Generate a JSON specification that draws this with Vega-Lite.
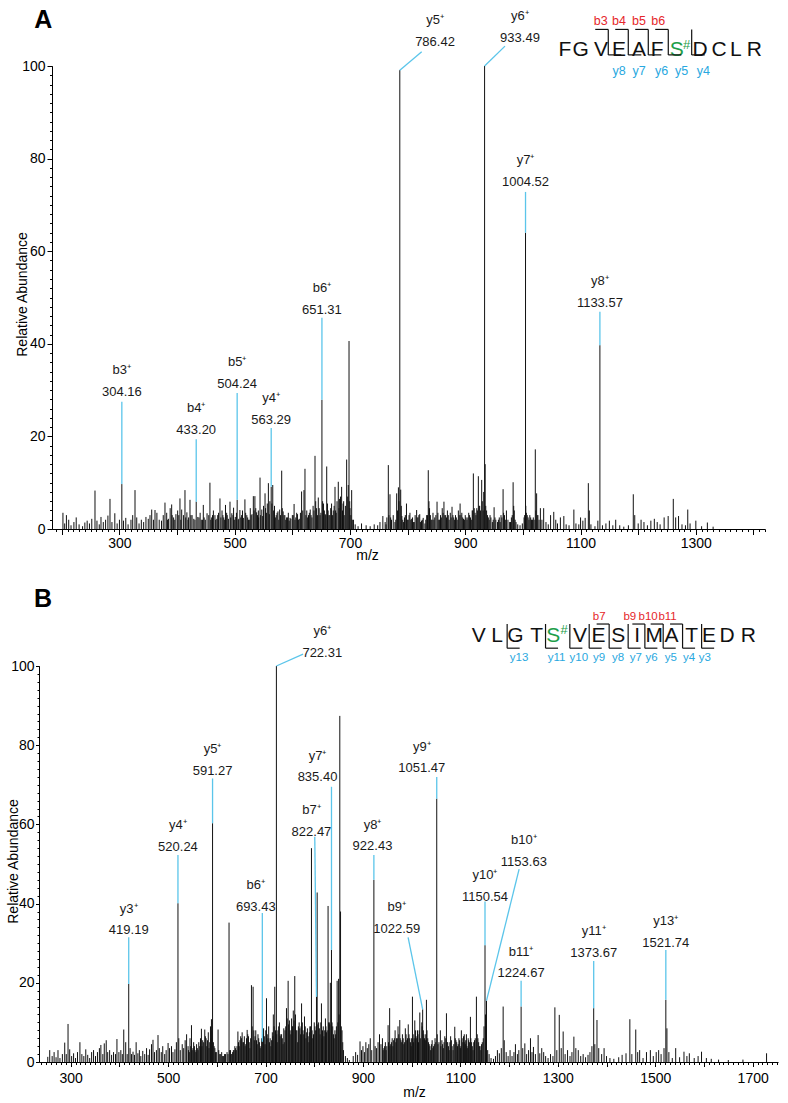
{
"$schema":"https://vega.github.io/schema/vega-lite/v6.json",
"background":"white",
"padding":{"left":6,"top":7,"right":4,"bottom":2},
"autosize":{"type":"pad"},
"bounds":"flush",
"center":true,
"spacing":137,
"config":{"view":{"stroke":null},"axis":{"grid":false,"labelFont":"Liberation Sans","titleFont":"Liberation Sans","labelFontSize":14,"titleFontSize":14,"titleFontWeight":"normal","labelColor":"#000","titleColor":"#000","domainColor":"#000","tickColor":"#000","domainWidth":1,"tickWidth":1,"labelFlush":false,"labelOverlap":false,"labelBound":false}},
"datasets":{
"one":[{"k":1}],
"specA":[{"mz":202,"i":3.5},{"mz":205,"i":1.2},{"mz":208,"i":3.0},{"mz":212,"i":2.0},{"mz":216,"i":0.8},{"mz":221,"i":1.5},{"mz":225,"i":2.5},{"mz":230,"i":1.0},{"mz":236,"i":0.6},{"mz":240,"i":1.4},{"mz":244,"i":1.8},{"mz":248,"i":1.2},{"mz":252,"i":2.2},{"mz":257.6,"i":8.3},{"mz":261,"i":1.8},{"mz":265,"i":1.0},{"mz":268,"i":2.6},{"mz":272,"i":1.5},{"mz":276,"i":2.0},{"mz":280,"i":2.9},{"mz":283.6,"i":6.5},{"mz":287,"i":1.5},{"mz":292,"i":3.4},{"mz":296,"i":1.2},{"mz":300,"i":2.0},{"mz":304.16,"i":9.7},{"mz":307,"i":1.8},{"mz":311,"i":2.4},{"mz":315,"i":1.0},{"mz":320,"i":2.0},{"mz":323,"i":3.0},{"mz":327,"i":8.4},{"mz":330,"i":2.5},{"mz":334,"i":1.2},{"mz":338,"i":2.0},{"mz":342,"i":1.5},{"mz":346,"i":2.6},{"mz":350,"i":2.2},{"mz":353,"i":3.0},{"mz":356,"i":4.2},{"mz":359,"i":2.0},{"mz":361.7,"i":4.1},{"mz":365,"i":3.5},{"mz":369,"i":2.0},{"mz":373,"i":1.8},{"mz":376,"i":3.0},{"mz":379,"i":5.7},{"mz":382,"i":3.5},{"mz":383.5,"i":2.0},{"mz":385,"i":2.2},{"mz":388,"i":4.5},{"mz":390.6,"i":5.3},{"mz":391.5,"i":3.0},{"mz":394,"i":2.5},{"mz":396,"i":2.0},{"mz":398,"i":3.2},{"mz":401,"i":4.0},{"mz":403,"i":3.0},{"mz":405,"i":6.6},{"mz":406.5,"i":2.0},{"mz":408,"i":4.2},{"mz":411,"i":3.0},{"mz":413.7,"i":8.4},{"mz":415,"i":2.5},{"mz":417,"i":3.6},{"mz":419,"i":2.0},{"mz":420,"i":2.5},{"mz":422.4,"i":6.3},{"mz":424,"i":3.0},{"mz":426,"i":3.0},{"mz":429,"i":2.2},{"mz":431,"i":2.0},{"mz":433.2,"i":5.9},{"mz":436,"i":2.6},{"mz":438,"i":2.5},{"mz":440,"i":3.5},{"mz":442,"i":2.0},{"mz":444,"i":2.0},{"mz":445.5,"i":5.2},{"mz":447,"i":2.5},{"mz":449,"i":2.0},{"mz":452,"i":3.4},{"mz":455,"i":3.0},{"mz":457,"i":10.0},{"mz":458.5,"i":2.0},{"mz":460,"i":2.5},{"mz":461.5,"i":3.0},{"mz":463,"i":4.0},{"mz":465.7,"i":3.0},{"mz":467,"i":2.0},{"mz":469,"i":2.2},{"mz":470.5,"i":3.0},{"mz":472,"i":3.5},{"mz":474.4,"i":6.6},{"mz":476,"i":2.5},{"mz":478,"i":4.0},{"mz":479.5,"i":3.0},{"mz":481,"i":2.5},{"mz":482.5,"i":2.0},{"mz":484,"i":5.2},{"mz":486,"i":3.5},{"mz":487,"i":3.0},{"mz":489,"i":2.2},{"mz":491.8,"i":5.9},{"mz":493,"i":2.5},{"mz":495,"i":3.4},{"mz":497,"i":3.0},{"mz":498,"i":4.6},{"mz":500,"i":2.0},{"mz":501,"i":2.6},{"mz":503,"i":3.5},{"mz":504.24,"i":6.3},{"mz":506,"i":2.0},{"mz":507,"i":2.2},{"mz":509,"i":4.1},{"mz":510.5,"i":2.5},{"mz":512,"i":3.0},{"mz":513.5,"i":4.0},{"mz":515,"i":2.4},{"mz":517.7,"i":6.4},{"mz":519,"i":3.5},{"mz":521,"i":3.0},{"mz":522.5,"i":2.5},{"mz":524,"i":2.0},{"mz":526,"i":2.0},{"mz":527,"i":4.5},{"mz":528.5,"i":3.0},{"mz":530,"i":3.2},{"mz":532.3,"i":7.1},{"mz":533.5,"i":4.0},{"mz":535,"i":7.1},{"mz":536.5,"i":4.5},{"mz":538,"i":3.6},{"mz":539.5,"i":3.0},{"mz":541,"i":4.0},{"mz":541.5,"i":2.5},{"mz":543.9,"i":11.1},{"mz":545,"i":3.0},{"mz":547,"i":4.2},{"mz":548.5,"i":2.8},{"mz":550,"i":5.0},{"mz":552.6,"i":7.7},{"mz":553.5,"i":4.5},{"mz":555,"i":3.5},{"mz":556.5,"i":5.5},{"mz":558.4,"i":9.9},{"mz":560,"i":3.2},{"mz":561,"i":6.0},{"mz":563.29,"i":9.1},{"mz":564.5,"i":5.5},{"mz":566,"i":9.5},{"mz":567.5,"i":4.0},{"mz":569,"i":5.0},{"mz":570.5,"i":2.5},{"mz":572,"i":3.0},{"mz":573.5,"i":3.5},{"mz":575,"i":3.8},{"mz":576.5,"i":2.0},{"mz":578,"i":4.2},{"mz":579.5,"i":3.0},{"mz":581.5,"i":12.6},{"mz":582.5,"i":4.5},{"mz":584,"i":3.8},{"mz":585.5,"i":3.0},{"mz":587,"i":3.0},{"mz":588.5,"i":2.0},{"mz":590,"i":2.5},{"mz":591.5,"i":2.5},{"mz":593,"i":3.5},{"mz":594.5,"i":1.8},{"mz":596,"i":2.4},{"mz":597.5,"i":2.2},{"mz":600,"i":3.0},{"mz":601.5,"i":3.0},{"mz":603,"i":5.4},{"mz":604.5,"i":2.0},{"mz":606,"i":2.5},{"mz":607.5,"i":3.5},{"mz":609,"i":3.2},{"mz":610.5,"i":2.0},{"mz":612,"i":2.2},{"mz":614,"i":3.5},{"mz":616,"i":8.1},{"mz":618,"i":4.0},{"mz":620.2,"i":8.4},{"mz":621.9,"i":13.0},{"mz":623.5,"i":3.0},{"mz":625,"i":4.0},{"mz":626.5,"i":2.5},{"mz":628,"i":3.0},{"mz":629.5,"i":3.5},{"mz":631,"i":4.2},{"mz":632.5,"i":3.0},{"mz":634,"i":2.5},{"mz":636,"i":5.0},{"mz":637.5,"i":4.0},{"mz":639.3,"i":15.8},{"mz":640.5,"i":6.0},{"mz":642,"i":4.5},{"mz":643.5,"i":3.0},{"mz":645,"i":6.8},{"mz":646.5,"i":4.5},{"mz":648,"i":3.0},{"mz":649.5,"i":3.5},{"mz":651.31,"i":27.9},{"mz":652.5,"i":6.0},{"mz":654,"i":5.5},{"mz":655.5,"i":4.0},{"mz":657,"i":3.2},{"mz":658,"i":3.0},{"mz":659.6,"i":13.5},{"mz":661,"i":5.5},{"mz":662,"i":4.0},{"mz":663.5,"i":3.0},{"mz":665,"i":3.0},{"mz":666.5,"i":4.5},{"mz":668,"i":5.5},{"mz":669.5,"i":3.0},{"mz":671,"i":4.0},{"mz":672.5,"i":5.0},{"mz":674,"i":9.1},{"mz":675,"i":4.0},{"mz":676,"i":3.5},{"mz":677.5,"i":6.0},{"mz":679.7,"i":10.2},{"mz":681,"i":4.5},{"mz":682,"i":6.5},{"mz":683.5,"i":7.0},{"mz":685.5,"i":9.1},{"mz":687,"i":4.0},{"mz":688,"i":5.5},{"mz":689,"i":6.0},{"mz":690,"i":3.0},{"mz":692,"i":5.0},{"mz":694.2,"i":15.0},{"mz":696,"i":7.0},{"mz":697,"i":9.5},{"mz":698.3,"i":40.6},{"mz":699.5,"i":6.0},{"mz":700,"i":4.5},{"mz":701.5,"i":3.0},{"mz":702.9,"i":8.4},{"mz":704,"i":2.0},{"mz":706,"i":2.0},{"mz":709,"i":1.0},{"mz":714,"i":0.6},{"mz":720,"i":1.2},{"mz":728,"i":0.8},{"mz":735,"i":0.6},{"mz":742,"i":1.0},{"mz":748,"i":0.8},{"mz":752,"i":1.5},{"mz":757,"i":2.8},{"mz":761,"i":1.5},{"mz":762.5,"i":1.0},{"mz":764,"i":2.5},{"mz":766.5,"i":13.8},{"mz":767.5,"i":3.0},{"mz":769.4,"i":7.5},{"mz":770.5,"i":2.5},{"mz":772,"i":2.0},{"mz":775,"i":3.0},{"mz":778,"i":1.5},{"mz":779.5,"i":2.0},{"mz":781,"i":7.7},{"mz":782.5,"i":4.0},{"mz":784,"i":9.0},{"mz":785,"i":6.0},{"mz":786.42,"i":99.1},{"mz":788,"i":8.5},{"mz":789,"i":5.0},{"mz":790,"i":2.8},{"mz":791.5,"i":2.0},{"mz":793,"i":1.5},{"mz":794.5,"i":2.5},{"mz":796,"i":3.0},{"mz":798,"i":5.5},{"mz":799.5,"i":2.0},{"mz":801,"i":2.0},{"mz":802.5,"i":3.0},{"mz":804,"i":3.5},{"mz":805.5,"i":2.0},{"mz":807,"i":2.2},{"mz":808.5,"i":2.5},{"mz":810,"i":1.5},{"mz":811.5,"i":1.5},{"mz":813,"i":3.0},{"mz":815.6,"i":4.1},{"mz":816.5,"i":2.5},{"mz":818,"i":2.5},{"mz":819.5,"i":3.0},{"mz":821,"i":3.2},{"mz":822.5,"i":1.5},{"mz":824,"i":1.8},{"mz":825.5,"i":2.0},{"mz":827,"i":2.4},{"mz":830,"i":1.2},{"mz":831.5,"i":2.0},{"mz":833,"i":3.0},{"mz":834.5,"i":3.0},{"mz":835.8,"i":12.7},{"mz":837,"i":6.0},{"mz":838,"i":4.5},{"mz":839.5,"i":3.0},{"mz":841,"i":2.0},{"mz":842.5,"i":2.0},{"mz":844,"i":3.5},{"mz":845.5,"i":2.0},{"mz":847,"i":2.5},{"mz":849,"i":3.0},{"mz":851,"i":5.9},{"mz":852.5,"i":3.5},{"mz":854,"i":2.0},{"mz":855.5,"i":2.0},{"mz":857,"i":3.0},{"mz":858.5,"i":2.5},{"mz":860,"i":4.5},{"mz":861.5,"i":3.5},{"mz":863,"i":5.9},{"mz":864.5,"i":3.0},{"mz":866,"i":3.0},{"mz":867.5,"i":2.5},{"mz":869,"i":4.0},{"mz":870.5,"i":3.0},{"mz":872,"i":2.0},{"mz":874,"i":3.5},{"mz":875.5,"i":2.5},{"mz":877,"i":4.8},{"mz":878.5,"i":3.0},{"mz":880,"i":2.5},{"mz":881.5,"i":2.0},{"mz":883,"i":3.0},{"mz":884.5,"i":2.5},{"mz":886,"i":2.0},{"mz":888,"i":4.0},{"mz":889.5,"i":3.0},{"mz":891,"i":5.5},{"mz":892.5,"i":3.0},{"mz":894,"i":3.5},{"mz":895.5,"i":2.5},{"mz":897,"i":2.2},{"mz":898.5,"i":2.0},{"mz":900,"i":3.0},{"mz":901.5,"i":2.5},{"mz":903,"i":2.0},{"mz":904.5,"i":2.5},{"mz":906,"i":3.5},{"mz":907.5,"i":3.0},{"mz":909,"i":2.5},{"mz":910.5,"i":2.0},{"mz":912,"i":4.0},{"mz":913,"i":4.0},{"mz":914,"i":12.0},{"mz":915.5,"i":4.5},{"mz":917,"i":3.5},{"mz":918.5,"i":3.0},{"mz":920,"i":4.5},{"mz":921,"i":4.0},{"mz":922.7,"i":11.4},{"mz":924,"i":5.0},{"mz":925,"i":5.0},{"mz":926.5,"i":4.0},{"mz":928.5,"i":10.6},{"mz":929.5,"i":6.0},{"mz":931,"i":4.0},{"mz":932,"i":8.0},{"mz":933.49,"i":100},{"mz":934.5,"i":14.0},{"mz":935.5,"i":5.0},{"mz":937,"i":4.0},{"mz":938.5,"i":3.0},{"mz":940,"i":2.5},{"mz":941.5,"i":2.0},{"mz":943,"i":3.0},{"mz":944.5,"i":2.5},{"mz":947,"i":1.5},{"mz":948.5,"i":2.0},{"mz":950,"i":4.7},{"mz":951.5,"i":2.5},{"mz":953,"i":2.0},{"mz":956,"i":1.5},{"mz":957.5,"i":2.0},{"mz":959,"i":2.5},{"mz":960.5,"i":1.5},{"mz":962,"i":3.0},{"mz":963.5,"i":2.5},{"mz":965.6,"i":8.6},{"mz":966.5,"i":3.5},{"mz":968,"i":3.0},{"mz":969.5,"i":2.0},{"mz":971.4,"i":4.0},{"mz":974,"i":2.0},{"mz":977,"i":1.5},{"mz":978.5,"i":1.5},{"mz":980,"i":2.5},{"mz":981.5,"i":3.0},{"mz":983,"i":10.1},{"mz":984,"i":5.0},{"mz":985,"i":4.0},{"mz":986.5,"i":2.0},{"mz":988,"i":1.5},{"mz":991,"i":1.0},{"mz":995,"i":0.8},{"mz":999,"i":1.2},{"mz":1002,"i":2.5},{"mz":1003,"i":3.0},{"mz":1004.52,"i":64},{"mz":1005,"i":5.0},{"mz":1006,"i":3.5},{"mz":1007.5,"i":3.0},{"mz":1009,"i":2.5},{"mz":1010.5,"i":2.0},{"mz":1012,"i":3.0},{"mz":1013.5,"i":2.5},{"mz":1015,"i":2.0},{"mz":1016.5,"i":2.0},{"mz":1018,"i":2.5},{"mz":1019.5,"i":2.0},{"mz":1021.5,"i":17.2},{"mz":1022.5,"i":4.0},{"mz":1023.8,"i":7.7},{"mz":1024.8,"i":3.0},{"mz":1026,"i":3.0},{"mz":1028,"i":2.0},{"mz":1030.3,"i":4.5},{"mz":1033,"i":2.0},{"mz":1036,"i":4.5},{"mz":1040,"i":1.5},{"mz":1044,"i":1.0},{"mz":1048,"i":3.0},{"mz":1053.5,"i":3.7},{"mz":1057,"i":2.0},{"mz":1060,"i":1.2},{"mz":1065,"i":2.5},{"mz":1071,"i":2.8},{"mz":1075,"i":1.0},{"mz":1080,"i":0.8},{"mz":1088.4,"i":4.2},{"mz":1092,"i":1.2},{"mz":1097,"i":1.0},{"mz":1100,"i":2.5},{"mz":1104,"i":1.8},{"mz":1108,"i":2.4},{"mz":1113.5,"i":9.9},{"mz":1115.2,"i":4.0},{"mz":1118,"i":1.0},{"mz":1125,"i":0.6},{"mz":1130,"i":1.8},{"mz":1133.57,"i":39.7},{"mz":1138,"i":0.8},{"mz":1144,"i":1.2},{"mz":1150,"i":1.8},{"mz":1156,"i":0.8},{"mz":1161,"i":2.0},{"mz":1168,"i":0.8},{"mz":1175,"i":0.5},{"mz":1183,"i":0.8},{"mz":1191.5,"i":7.5},{"mz":1194,"i":3.0},{"mz":1200,"i":1.2},{"mz":1205,"i":2.0},{"mz":1210,"i":1.5},{"mz":1216,"i":0.8},{"mz":1222,"i":1.8},{"mz":1228,"i":2.2},{"mz":1233,"i":1.5},{"mz":1238,"i":1.0},{"mz":1245,"i":2.5},{"mz":1252,"i":2.8},{"mz":1260.9,"i":6.5},{"mz":1265,"i":2.5},{"mz":1270,"i":2.8},{"mz":1276,"i":1.0},{"mz":1282,"i":0.8},{"mz":1286,"i":4.2},{"mz":1290,"i":1.2},{"mz":1300,"i":1.8},{"mz":1310,"i":0.6},{"mz":1320,"i":1.4},{"mz":1330,"i":0.5}],
"annA":[{"ion":"b3⁺","lab":"304.16","mz":304.16,"i":9.7,"lx":304.16,"ly":27.5,"tx":304.16,"ty":29.5},{"ion":"b4⁺","lab":"433.20","mz":433.2,"i":5.9,"lx":433.2,"ly":19.4,"tx":433.2,"ty":21.4},{"ion":"b5⁺","lab":"504.24","mz":504.24,"i":6.3,"lx":504.24,"ly":29.4,"tx":504.24,"ty":31.3},{"ion":"y4⁺","lab":"563.29","mz":563.29,"i":9.1,"lx":563.29,"ly":21.8,"tx":563.29,"ty":23.5},{"ion":"b6⁺","lab":"651.31","mz":651.31,"i":27.9,"lx":651.31,"ly":45.6,"tx":651.31,"ty":47.3},{"ion":"y5⁺","lab":"786.42","mz":786.42,"i":99.1,"lx":824.4,"ly":103.1,"tx":847.5,"ty":105.2},{"ion":"y6⁺","lab":"933.49","mz":933.49,"i":100,"lx":968.9,"ly":104.3,"tx":994.9,"ty":106.0},{"ion":"y7⁺","lab":"1004.52","mz":1004.52,"i":64,"lx":1004.52,"ly":72.8,"tx":1004.52,"ty":74.9},{"ion":"y8⁺","lab":"1133.57","mz":1133.57,"i":39.7,"lx":1133.57,"ly":46.9,"tx":1133.57,"ty":48.8}],
"seqA":[{"aa":"F","x":1073.0,"c":"n"},{"aa":"G","x":1100.3,"c":"n"},{"aa":"V","x":1135.5,"c":"n"},{"aa":"E","x":1166.7,"c":"n"},{"aa":"A","x":1201.4,"c":"n"},{"aa":"F","x":1233.1,"c":"n"},{"aa":"S","x":1266.8,"c":"p"},{"aa":"D","x":1307.2,"c":"n"},{"aa":"C","x":1340.2,"c":"n"},{"aa":"L","x":1369.2,"c":"n"},{"aa":"R","x":1401.4,"c":"n"}],
"sepA":[{"s":1148.1,"bx":1125.5,"yx":1170.7},{"s":1182.8,"bx":1160.2,"yx":1205.4},{"s":1217.5,"bx":1194.9,"yx":1240.1},{"s":1252.2,"bx":1229.6,"yx":1274.8},{"s":1292.8,"yx":1315.4}],
"bA":[{"t":"b3","x":1134.9},{"t":"b4","x":1166.7},{"t":"b5","x":1201.4},{"t":"b6","x":1234.9}],
"yA":[{"t":"y8","x":1166.7},{"t":"y7","x":1201.4},{"t":"y6","x":1240.8},{"t":"y5","x":1275.5},{"t":"y4","x":1312.9}],
"specB":[{"mz":253,"i":1.3},{"mz":257,"i":3.0},{"mz":262,"i":1.5},{"mz":266,"i":2.5},{"mz":270,"i":1.2},{"mz":274,"i":3.0},{"mz":278,"i":1.0},{"mz":283,"i":2.0},{"mz":287.8,"i":4.9},{"mz":291,"i":2.0},{"mz":294.6,"i":9.6},{"mz":298,"i":3.2},{"mz":302,"i":1.5},{"mz":306,"i":2.2},{"mz":310,"i":1.0},{"mz":314,"i":2.5},{"mz":319,"i":5.0},{"mz":323,"i":2.0},{"mz":327,"i":1.5},{"mz":331,"i":3.2},{"mz":335,"i":1.8},{"mz":339,"i":1.0},{"mz":343,"i":2.5},{"mz":347,"i":3.0},{"mz":351,"i":1.5},{"mz":355,"i":2.5},{"mz":359,"i":3.5},{"mz":362,"i":4.3},{"mz":366,"i":2.0},{"mz":369,"i":4.7},{"mz":373,"i":5.5},{"mz":376,"i":2.5},{"mz":380,"i":3.0},{"mz":384,"i":1.8},{"mz":388,"i":2.5},{"mz":392,"i":2.0},{"mz":395,"i":5.8},{"mz":399,"i":2.5},{"mz":403,"i":3.0},{"mz":406,"i":2.0},{"mz":409,"i":8.2},{"mz":413,"i":5.0},{"mz":416,"i":2.0},{"mz":419.19,"i":19.7},{"mz":422,"i":3.5},{"mz":425,"i":2.0},{"mz":428,"i":2.6},{"mz":431,"i":1.8},{"mz":434.4,"i":5.0},{"mz":438,"i":2.2},{"mz":441,"i":3.0},{"mz":444,"i":1.5},{"mz":448,"i":2.8},{"mz":452,"i":2.0},{"mz":455.8,"i":3.5},{"mz":459,"i":1.8},{"mz":462,"i":3.2},{"mz":466,"i":4.5},{"mz":469,"i":5.6},{"mz":472,"i":2.5},{"mz":476,"i":3.0},{"mz":479.3,"i":6.8},{"mz":482,"i":3.5},{"mz":486,"i":2.5},{"mz":489,"i":4.0},{"mz":493,"i":2.0},{"mz":496,"i":3.0},{"mz":500,"i":4.8},{"mz":503,"i":3.5},{"mz":507,"i":4.0},{"mz":510,"i":2.5},{"mz":514,"i":3.2},{"mz":517,"i":5.0},{"mz":520.24,"i":40.1},{"mz":522,"i":6.0},{"mz":525,"i":3.0},{"mz":529,"i":4.5},{"mz":532,"i":3.5},{"mz":535,"i":5.5},{"mz":538,"i":7.0},{"mz":541,"i":4.0},{"mz":542,"i":3.0},{"mz":543.5,"i":2.5},{"mz":545,"i":6.0},{"mz":546.5,"i":4.0},{"mz":548,"i":9.3},{"mz":549.5,"i":3.0},{"mz":551,"i":3.5},{"mz":552.5,"i":5.0},{"mz":554,"i":4.0},{"mz":555.5,"i":3.0},{"mz":557,"i":2.5},{"mz":558.5,"i":4.5},{"mz":560,"i":3.5},{"mz":561.5,"i":3.0},{"mz":563,"i":5.0},{"mz":565,"i":4.0},{"mz":566.5,"i":6.0},{"mz":568.4,"i":8.4},{"mz":569.5,"i":4.0},{"mz":571,"i":5.5},{"mz":573,"i":5.0},{"mz":575.3,"i":8.2},{"mz":576.5,"i":6.5},{"mz":578,"i":6.0},{"mz":579.5,"i":4.0},{"mz":581,"i":5.5},{"mz":582.5,"i":7.5},{"mz":584,"i":3.5},{"mz":585.5,"i":5.0},{"mz":587,"i":9.0},{"mz":588,"i":6.0},{"mz":589,"i":10.8},{"mz":590,"i":8.0},{"mz":591.27,"i":60.3},{"mz":593,"i":5.0},{"mz":594.5,"i":4.0},{"mz":596,"i":3.5},{"mz":597.5,"i":2.5},{"mz":599,"i":2.5},{"mz":602.6,"i":8.2},{"mz":604,"i":3.0},{"mz":606,"i":2.0},{"mz":608,"i":2.0},{"mz":610,"i":2.5},{"mz":612,"i":1.5},{"mz":614,"i":1.5},{"mz":616,"i":2.0},{"mz":618,"i":2.0},{"mz":621,"i":2.5},{"mz":623,"i":2.0},{"mz":625.1,"i":35.2},{"mz":626.5,"i":3.0},{"mz":628,"i":3.0},{"mz":629.5,"i":2.0},{"mz":631,"i":2.0},{"mz":632.5,"i":2.5},{"mz":634,"i":3.0},{"mz":635.5,"i":3.0},{"mz":637,"i":4.0},{"mz":638.5,"i":3.5},{"mz":640,"i":3.0},{"mz":641.5,"i":4.0},{"mz":643.3,"i":7.7},{"mz":644.5,"i":5.0},{"mz":646,"i":4.0},{"mz":647.5,"i":5.5},{"mz":649,"i":6.5},{"mz":650.5,"i":6.0},{"mz":652,"i":7.5},{"mz":653.5,"i":5.0},{"mz":655,"i":5.0},{"mz":656.5,"i":6.5},{"mz":658,"i":4.0},{"mz":659.5,"i":4.5},{"mz":661,"i":6.0},{"mz":662.3,"i":8.1},{"mz":663.5,"i":7.0},{"mz":665,"i":6.5},{"mz":666.5,"i":5.0},{"mz":668,"i":3.5},{"mz":669.5,"i":6.0},{"mz":671.1,"i":19.4},{"mz":672.5,"i":9.0},{"mz":674.5,"i":19.0},{"mz":676,"i":8.0},{"mz":677,"i":5.5},{"mz":678.5,"i":6.5},{"mz":680,"i":8.0},{"mz":681.5,"i":5.5},{"mz":683,"i":4.5},{"mz":684.5,"i":7.0},{"mz":686,"i":6.0},{"mz":687.5,"i":5.0},{"mz":689,"i":3.5},{"mz":690.5,"i":4.0},{"mz":692,"i":6.0},{"mz":693.43,"i":5.1},{"mz":694.5,"i":7.0},{"mz":696,"i":8.5},{"mz":697.5,"i":6.5},{"mz":699,"i":4.5},{"mz":700.5,"i":8.0},{"mz":702,"i":16.1},{"mz":703.5,"i":7.0},{"mz":705,"i":6.0},{"mz":706.5,"i":9.0},{"mz":708,"i":5.0},{"mz":709.5,"i":6.0},{"mz":711,"i":4.0},{"mz":712.5,"i":5.5},{"mz":714,"i":7.5},{"mz":715,"i":6.5},{"mz":716,"i":12.0},{"mz":717.5,"i":9.0},{"mz":719,"i":19.0},{"mz":720.5,"i":8.0},{"mz":722.31,"i":100},{"mz":723,"i":7.0},{"mz":724,"i":5.0},{"mz":725.5,"i":8.0},{"mz":727,"i":9.0},{"mz":728.5,"i":10.0},{"mz":730,"i":6.5},{"mz":731.5,"i":7.0},{"mz":733,"i":7.0},{"mz":734.5,"i":6.0},{"mz":736,"i":4.5},{"mz":737.5,"i":8.5},{"mz":738.5,"i":5.0},{"mz":740,"i":8.0},{"mz":741.5,"i":9.0},{"mz":743,"i":13.6},{"mz":744.5,"i":11.0},{"mz":746.4,"i":20.5},{"mz":747.5,"i":9.5},{"mz":749,"i":10.5},{"mz":750.5,"i":8.0},{"mz":752,"i":7.0},{"mz":753.5,"i":11.0},{"mz":755,"i":9.0},{"mz":756,"i":9.0},{"mz":757,"i":13.0},{"mz":758.5,"i":10.5},{"mz":760,"i":21.7},{"mz":761.5,"i":12.0},{"mz":763,"i":8.0},{"mz":764.5,"i":8.0},{"mz":766,"i":5.0},{"mz":767.5,"i":9.0},{"mz":769,"i":10.0},{"mz":770.5,"i":8.5},{"mz":772,"i":7.0},{"mz":773,"i":9.0},{"mz":774,"i":14.8},{"mz":775.5,"i":10.0},{"mz":777,"i":8.0},{"mz":778.5,"i":7.0},{"mz":780,"i":11.5},{"mz":781.5,"i":9.0},{"mz":783,"i":6.0},{"mz":784.5,"i":7.5},{"mz":786,"i":8.5},{"mz":787.5,"i":6.5},{"mz":789,"i":5.0},{"mz":790,"i":7.5},{"mz":791,"i":9.0},{"mz":792.5,"i":9.0},{"mz":794.3,"i":54.0},{"mz":795.5,"i":8.0},{"mz":797,"i":6.0},{"mz":798.5,"i":7.0},{"mz":800,"i":10.0},{"mz":801.5,"i":9.0},{"mz":803,"i":8.0},{"mz":804.6,"i":16.5},{"mz":806,"i":42.8},{"mz":807.5,"i":9.5},{"mz":809,"i":10.0},{"mz":810.5,"i":8.5},{"mz":812,"i":7.0},{"mz":813.5,"i":10.0},{"mz":814.8,"i":14.8},{"mz":816,"i":6.0},{"mz":817,"i":8.0},{"mz":818.5,"i":9.0},{"mz":820,"i":6.5},{"mz":821.5,"i":8.0},{"mz":823,"i":11.0},{"mz":824,"i":9.0},{"mz":825,"i":7.5},{"mz":826.5,"i":8.0},{"mz":828.4,"i":39.4},{"mz":829.5,"i":10.0},{"mz":831,"i":10.0},{"mz":832,"i":9.5},{"mz":833,"i":20.0},{"mz":835.4,"i":28.3},{"mz":836.5,"i":10.0},{"mz":838,"i":9.0},{"mz":839.5,"i":7.0},{"mz":841,"i":6.0},{"mz":842.5,"i":8.0},{"mz":844,"i":7.0},{"mz":845.5,"i":9.0},{"mz":847,"i":20.5},{"mz":848.5,"i":10.0},{"mz":850,"i":21.0},{"mz":851,"i":12.0},{"mz":852.5,"i":87.4},{"mz":854,"i":38.0},{"mz":855.5,"i":9.0},{"mz":857,"i":8.0},{"mz":858.5,"i":5.0},{"mz":860,"i":3.0},{"mz":864,"i":1.5},{"mz":868,"i":1.0},{"mz":872,"i":0.5},{"mz":880,"i":1.5},{"mz":885,"i":2.5},{"mz":889,"i":1.8},{"mz":894,"i":5.2},{"mz":897,"i":3.0},{"mz":900,"i":4.0},{"mz":903,"i":2.5},{"mz":906,"i":5.0},{"mz":909,"i":3.5},{"mz":912,"i":4.5},{"mz":915,"i":6.0},{"mz":918,"i":3.0},{"mz":922.43,"i":46.0},{"mz":925,"i":4.0},{"mz":928,"i":3.5},{"mz":931,"i":5.0},{"mz":934,"i":7.0},{"mz":937,"i":4.5},{"mz":940,"i":6.0},{"mz":941.5,"i":3.0},{"mz":943,"i":3.5},{"mz":944.5,"i":4.0},{"mz":946,"i":5.0},{"mz":947.5,"i":3.0},{"mz":949,"i":4.0},{"mz":951.6,"i":9.3},{"mz":952.5,"i":5.0},{"mz":954.8,"i":13.6},{"mz":955.5,"i":4.0},{"mz":957,"i":4.5},{"mz":958.5,"i":5.0},{"mz":960,"i":6.0},{"mz":961.5,"i":4.0},{"mz":963,"i":5.5},{"mz":964.5,"i":6.0},{"mz":966,"i":8.0},{"mz":967.5,"i":5.0},{"mz":969,"i":6.0},{"mz":970.5,"i":6.0},{"mz":972,"i":9.0},{"mz":973.5,"i":7.0},{"mz":975.6,"i":10.6},{"mz":976.5,"i":6.0},{"mz":978,"i":5.5},{"mz":979.5,"i":5.0},{"mz":981,"i":7.0},{"mz":982.5,"i":6.0},{"mz":984,"i":4.5},{"mz":985.5,"i":5.0},{"mz":987,"i":8.5},{"mz":988.5,"i":7.0},{"mz":990,"i":5.5},{"mz":991.5,"i":6.0},{"mz":993,"i":9.5},{"mz":994.5,"i":7.0},{"mz":996,"i":6.0},{"mz":997.5,"i":5.0},{"mz":999,"i":4.0},{"mz":1000,"i":6.0},{"mz":1001.6,"i":16.5},{"mz":1003,"i":7.0},{"mz":1004,"i":5.0},{"mz":1005,"i":6.0},{"mz":1006.4,"i":10.5},{"mz":1008,"i":8.0},{"mz":1009,"i":6.5},{"mz":1010.5,"i":6.0},{"mz":1012,"i":8.0},{"mz":1013,"i":7.0},{"mz":1014,"i":5.0},{"mz":1015.5,"i":8.0},{"mz":1016.7,"i":12.5},{"mz":1018.5,"i":6.0},{"mz":1020.8,"i":10.0},{"mz":1021.5,"i":9.0},{"mz":1022.59,"i":13.3},{"mz":1024,"i":8.0},{"mz":1025,"i":7.0},{"mz":1026.5,"i":6.0},{"mz":1028,"i":5.5},{"mz":1029,"i":7.0},{"mz":1030.3,"i":15.7},{"mz":1031.5,"i":8.0},{"mz":1033,"i":6.0},{"mz":1034.5,"i":5.0},{"mz":1036,"i":4.5},{"mz":1037.5,"i":4.0},{"mz":1039,"i":3.0},{"mz":1040.5,"i":4.5},{"mz":1042,"i":5.5},{"mz":1043.5,"i":3.5},{"mz":1045,"i":4.0},{"mz":1046.5,"i":4.5},{"mz":1048,"i":6.0},{"mz":1049.5,"i":5.0},{"mz":1051.47,"i":66.5},{"mz":1052.5,"i":7.0},{"mz":1054,"i":4.5},{"mz":1056,"i":5.0},{"mz":1058.9,"i":8.0},{"mz":1060,"i":4.0},{"mz":1062,"i":5.5},{"mz":1063.5,"i":4.5},{"mz":1065,"i":3.5},{"mz":1066.5,"i":5.0},{"mz":1068,"i":6.5},{"mz":1070,"i":6.0},{"mz":1071.4,"i":12.3},{"mz":1072.5,"i":5.0},{"mz":1074,"i":5.0},{"mz":1075.5,"i":4.0},{"mz":1077,"i":3.0},{"mz":1078.5,"i":5.0},{"mz":1080,"i":6.5},{"mz":1081.5,"i":5.5},{"mz":1083,"i":4.0},{"mz":1085,"i":3.0},{"mz":1086.5,"i":4.5},{"mz":1088.5,"i":8.9},{"mz":1089.5,"i":6.0},{"mz":1091,"i":5.5},{"mz":1092.5,"i":5.0},{"mz":1094,"i":4.0},{"mz":1095.5,"i":4.5},{"mz":1097,"i":6.0},{"mz":1098.5,"i":5.5},{"mz":1100,"i":3.5},{"mz":1101,"i":4.0},{"mz":1102,"i":8.0},{"mz":1103.5,"i":6.0},{"mz":1105,"i":5.0},{"mz":1106.5,"i":6.5},{"mz":1108,"i":7.0},{"mz":1109,"i":5.0},{"mz":1110,"i":4.5},{"mz":1111,"i":5.5},{"mz":1112.4,"i":7.0},{"mz":1113.5,"i":4.0},{"mz":1115,"i":3.5},{"mz":1116,"i":6.0},{"mz":1117,"i":5.5},{"mz":1118.5,"i":5.0},{"mz":1120.6,"i":11.4},{"mz":1121.5,"i":6.0},{"mz":1123,"i":5.0},{"mz":1124.5,"i":4.0},{"mz":1126,"i":3.0},{"mz":1127.5,"i":5.0},{"mz":1129,"i":5.5},{"mz":1130.5,"i":6.0},{"mz":1132.9,"i":16.5},{"mz":1134.5,"i":7.0},{"mz":1136,"i":6.0},{"mz":1137.5,"i":5.0},{"mz":1139,"i":4.0},{"mz":1140.5,"i":4.0},{"mz":1142,"i":3.0},{"mz":1143.5,"i":4.5},{"mz":1145,"i":5.0},{"mz":1147,"i":6.0},{"mz":1148.5,"i":9.0},{"mz":1150.54,"i":29.5},{"mz":1151.5,"i":12.0},{"mz":1153.63,"i":15.5},{"mz":1156,"i":3.0},{"mz":1159,"i":2.0},{"mz":1163,"i":1.0},{"mz":1168,"i":0.8},{"mz":1172,"i":1.5},{"mz":1176,"i":3.0},{"mz":1180,"i":2.2},{"mz":1184,"i":3.5},{"mz":1187.8,"i":14.0},{"mz":1190,"i":5.5},{"mz":1194,"i":2.5},{"mz":1198,"i":1.5},{"mz":1202,"i":3.0},{"mz":1206,"i":1.5},{"mz":1210,"i":2.5},{"mz":1213,"i":4.5},{"mz":1217,"i":2.0},{"mz":1220,"i":3.0},{"mz":1224.67,"i":14.0},{"mz":1228,"i":3.5},{"mz":1232.3,"i":4.7},{"mz":1236,"i":2.0},{"mz":1240,"i":3.0},{"mz":1243.9,"i":6.0},{"mz":1247,"i":2.5},{"mz":1250,"i":3.8},{"mz":1254,"i":2.0},{"mz":1259.6,"i":6.8},{"mz":1263,"i":2.2},{"mz":1267,"i":3.5},{"mz":1271,"i":2.5},{"mz":1275,"i":1.5},{"mz":1280,"i":1.0},{"mz":1285,"i":2.0},{"mz":1290,"i":1.5},{"mz":1294,"i":13.8},{"mz":1298,"i":3.0},{"mz":1303,"i":11.9},{"mz":1307,"i":3.5},{"mz":1311,"i":7.7},{"mz":1315,"i":2.0},{"mz":1320,"i":3.0},{"mz":1325,"i":1.5},{"mz":1329,"i":2.5},{"mz":1333,"i":6.4},{"mz":1337,"i":3.5},{"mz":1342,"i":3.0},{"mz":1347,"i":1.5},{"mz":1352,"i":2.0},{"mz":1357,"i":1.2},{"mz":1362,"i":1.8},{"mz":1366,"i":2.5},{"mz":1370,"i":4.0},{"mz":1373.67,"i":13.6},{"mz":1376,"i":4.5},{"mz":1380.4,"i":10.6},{"mz":1384,"i":3.5},{"mz":1390,"i":2.0},{"mz":1395,"i":3.5},{"mz":1400,"i":1.5},{"mz":1407,"i":1.0},{"mz":1415,"i":0.8},{"mz":1425,"i":1.2},{"mz":1432,"i":1.8},{"mz":1440,"i":2.2},{"mz":1447.9,"i":10.8},{"mz":1452,"i":2.0},{"mz":1460,"i":8.2},{"mz":1464,"i":2.5},{"mz":1468,"i":3.0},{"mz":1475,"i":1.0},{"mz":1482,"i":2.5},{"mz":1490,"i":3.0},{"mz":1496,"i":1.5},{"mz":1502,"i":2.5},{"mz":1507,"i":3.0},{"mz":1512,"i":2.0},{"mz":1518,"i":3.5},{"mz":1521.74,"i":15.7},{"mz":1524,"i":8.5},{"mz":1528,"i":2.5},{"mz":1535,"i":1.0},{"mz":1542,"i":3.5},{"mz":1550,"i":1.2},{"mz":1559,"i":2.6},{"mz":1565,"i":1.5},{"mz":1570,"i":2.2},{"mz":1580,"i":1.0},{"mz":1588,"i":1.5},{"mz":1595,"i":2.6},{"mz":1605,"i":1.0},{"mz":1615,"i":0.8},{"mz":1630,"i":0.6},{"mz":1650,"i":0.5},{"mz":1680,"i":0.6},{"mz":1728.5,"i":2.2}],
"annB":[{"ion":"y3⁺","lab":"419.19","mz":419.19,"i":19.7,"lx":419.19,"ly":31.5,"tx":419.19,"ty":33.3},{"ion":"y4⁺","lab":"520.24","mz":520.24,"i":40.1,"lx":520.24,"ly":52.3,"tx":520.24,"ty":54.4},{"ion":"y5⁺","lab":"591.27","mz":591.27,"i":60.3,"lx":591.27,"ly":71.6,"tx":591.27,"ty":73.6},{"ion":"b6⁺","lab":"693.43","mz":693.43,"i":5.1,"lx":693.43,"ly":37.6,"tx":680,"ty":39.2},{"ion":"y6⁺","lab":"722.31","mz":722.31,"i":100,"lx":777.1,"ly":103.0,"tx":816.5,"ty":103.3},{"ion":"b7⁺","lab":"822.47","mz":804.6,"i":16.5,"lx":801.1,"ly":56.9,"tx":794.3,"ty":58.2},{"ion":"y7⁺","lab":"835.40","mz":835.4,"i":28.3,"lx":835.4,"ly":69.5,"tx":806.7,"ty":71.9},{"ion":"y8⁺","lab":"922.43","mz":922.43,"i":46.0,"lx":922.43,"ly":52.3,"tx":919.6,"ty":54.5},{"ion":"b9⁺","lab":"1022.59","mz":1022.59,"i":13.3,"lx":992.7,"ly":31.5,"tx":969.5,"ty":33.6},{"ion":"y9⁺","lab":"1051.47","mz":1051.47,"i":66.5,"lx":1051.47,"ly":72.0,"tx":1020.8,"ty":74.2},{"ion":"y10⁺","lab":"1150.54","mz":1150.54,"i":29.5,"lx":1150.54,"ly":40.5,"tx":1150.54,"ty":41.7},{"ion":"b10⁺","lab":"1153.63","mz":1153.63,"i":15.5,"lx":1220.6,"ly":48.7,"tx":1230.3,"ty":50.6},{"ion":"b11⁺","lab":"1224.67","mz":1224.67,"i":14.0,"lx":1224.67,"ly":20.5,"tx":1224.67,"ty":22.4},{"ion":"y11⁺","lab":"1373.67","mz":1373.67,"i":13.6,"lx":1373.67,"ly":25.5,"tx":1373.67,"ty":27.6},{"ion":"y13⁺","lab":"1521.74","mz":1521.74,"i":15.7,"lx":1521.74,"ly":28.3,"tx":1521.74,"ty":30.1}],
"seqB":[{"aa":"V","x":1137.9,"c":"n"},{"aa":"L","x":1175.5,"c":"n"},{"aa":"G","x":1213.2,"c":"n"},{"aa":"T","x":1256.4,"c":"n"},{"aa":"S","x":1290.4,"c":"p"},{"aa":"V","x":1345.3,"c":"n"},{"aa":"E","x":1383.3,"c":"n"},{"aa":"S","x":1423.9,"c":"n"},{"aa":"I","x":1462.9,"c":"n"},{"aa":"M","x":1497.8,"c":"n"},{"aa":"A","x":1533.6,"c":"n"},{"aa":"T","x":1574.6,"c":"n"},{"aa":"E","x":1610.2,"c":"n"},{"aa":"D","x":1647.7,"c":"n"},{"aa":"R","x":1690.9,"c":"n"}],
"sepB":[{"s":1196.0,"yx":1221.7},{"s":1274.8,"yx":1300.5},{"s":1324.7,"yx":1350.4},{"s":1364.4,"yx":1390.1},{"s":1405.4,"bx":1379.7,"yx":1431.1},{"s":1444.4,"yx":1470.1},{"s":1478.7,"bx":1453.0,"yx":1504.4},{"s":1516.3,"bx":1490.6,"yx":1542.0},{"s":1556.1,"bx":1530.4,"yx":1581.8},{"s":1595.2,"yx":1620.9}],
"bB":[{"t":"b7","x":1384.9},{"t":"b9","x":1447.9},{"t":"b10","x":1485.5},{"t":"b11","x":1525.3}],
"yB":[{"t":"y13","x":1220.6},{"t":"y11","x":1297.4},{"t":"y10","x":1343.2},{"t":"y9","x":1384.9},{"t":"y8","x":1423.9},{"t":"y7","x":1460.3},{"t":"y6","x":1492.5},{"t":"y5","x":1532.1},{"t":"y4","x":1569.7},{"t":"y3","x":1602}]
},
"vconcat":[
{
"width":713,"height":463,
"resolve":{"axis":{"x":"independent","y":"independent"}},
"layer":[
{"data":{"name":"specA"},"mark":{"type":"rule","color":"#111","strokeWidth":1},
"encoding":{
"x":{"field":"mz","type":"quantitative","scale":{"domain":[183,1420],"nice":false,"zero":false},"axis":{"orient":"bottom","values":[200,300,400,500,600,700,800,900,1000,1100,1200,1300,1400],"format":"d","labelExpr":"datum.value % 200 == 100 ? datum.label : ''","tickSize":5.5,"labelPadding":1.5,"title":"m/z","titleX":315,"titleY":26,"titleBaseline":"middle","titleAlign":"center"}},
"y":{"field":"i","type":"quantitative","scale":{"domain":[0,100],"nice":false},"axis":{"orient":"left","values":[0,20,40,60,80,100],"format":"d","tickSize":5,"labelPadding":2,"title":"Relative Abundance","titleX":-30,"titleY":228,"titleBaseline":"middle","titleAngle":270}},
"y2":{"datum":0}}},
{"data":{"name":"annA"},"mark":{"type":"rule","color":"#5BC5EA","strokeWidth":1.3},
"encoding":{
"x":{"field":"mz","type":"quantitative","scale":{"domain":[183,1420],"nice":false,"zero":false},"axis":{"orient":"bottom","values":[190,200,210,220,230,240,250,260,270,280,290,300,310,320,330,340,350,360,370,380,390,400,410,420,430,440,450,460,470,480,490,500,510,520,530,540,550,560,570,580,590,600,610,620,630,640,650,660,670,680,690,700,710,720,730,740,750,760,770,780,790,800,810,820,830,840,850,860,870,880,890,900,910,920,930,940,950,960,970,980,990,1000,1010,1020,1030,1040,1050,1060,1070,1080,1090,1100,1110,1120,1130,1140,1150,1160,1170,1180,1190,1200,1210,1220,1230,1240,1250,1260,1270,1280,1290,1300,1310,1320,1330,1340,1350,1360,1370,1380,1390,1400,1410,1420],"labels":false,"domain":false,"tickSize":2.5,"title":null}},
"y":{"field":"i","type":"quantitative","scale":{"domain":[0,100],"nice":false},"axis":{"orient":"left","values":[0,2,4,6,8,10,12,14,16,18,20,22,24,26,28,30,32,34,36,38,40,42,44,46,48,50,52,54,56,58,60,62,64,66,68,70,72,74,76,78,80,82,84,86,88,90,92,94,96,98,100],"labels":false,"domain":false,"tickSize":2.5,"title":null}},
"x2":{"field":"lx"},"y2":{"field":"ly"}}},
{"data":{"name":"annA"},"mark":{"type":"text","font":"Liberation Sans","fontSize":13,"color":"#1a1a1a","align":"center","baseline":"middle"},
"encoding":{"x":{"field":"tx","type":"quantitative","scale":{"domain":[183,1420],"nice":false,"zero":false},"axis":null},"y":{"field":"ty","type":"quantitative","scale":{"domain":[0,100],"nice":false},"axis":null},"text":{"field":"lab"}}},
{"data":{"name":"annA"},"mark":{"type":"text","font":"Liberation Sans","fontSize":13,"color":"#1a1a1a","align":"center","baseline":"middle","dy":-22},
"encoding":{"x":{"field":"tx","type":"quantitative","scale":{"domain":[183,1420],"nice":false,"zero":false},"axis":null},"y":{"field":"ty","type":"quantitative","scale":{"domain":[0,100],"nice":false},"axis":null},"text":{"field":"ion"}}},
{"data":{"name":"seqA"},"mark":{"type":"text","font":"Liberation Sans","fontSize":21,"align":"center","baseline":"middle"},
"encoding":{"x":{"field":"x","type":"quantitative","scale":{"domain":[183,1420],"nice":false,"zero":false},"axis":null},"y":{"datum":103.4,"type":"quantitative","axis":null},"text":{"field":"aa"},"color":{"field":"c","type":"nominal","scale":{"domain":["n","p"],"range":["#111111","#1E9E4A"]},"legend":null}}},
{"data":{"name":"sepA"},"mark":{"type":"rule","color":"#111","strokeWidth":1.2},
"encoding":{"x":{"field":"s","type":"quantitative","scale":{"domain":[183,1420],"nice":false,"zero":false},"axis":null},"y":{"datum":107.9,"type":"quantitative","axis":null},"y2":{"datum":102.4}}},
{"data":{"name":"sepA"},"transform":[{"filter":"isValid(datum.bx)"}],"mark":{"type":"rule","color":"#111","strokeWidth":1.2},
"encoding":{"x":{"field":"s","type":"quantitative","scale":{"domain":[183,1420],"nice":false,"zero":false},"axis":null},"x2":{"field":"bx"},"y":{"datum":107.9,"type":"quantitative","axis":null}}},
{"data":{"name":"sepA"},"transform":[{"filter":"isValid(datum.yx)"}],"mark":{"type":"rule","color":"#111","strokeWidth":1.2},
"encoding":{"x":{"field":"s","type":"quantitative","scale":{"domain":[183,1420],"nice":false,"zero":false},"axis":null},"x2":{"field":"yx"},"y":{"datum":102.4,"type":"quantitative","axis":null}}},
{"data":{"name":"bA"},"mark":{"type":"text","font":"Liberation Sans","fontSize":12.5,"color":"#E5262A","align":"center","baseline":"middle"},
"encoding":{"x":{"field":"x","type":"quantitative","scale":{"domain":[183,1420],"nice":false,"zero":false},"axis":null},"y":{"datum":109.8,"type":"quantitative","axis":null},"text":{"field":"t"}}},
{"data":{"name":"yA"},"mark":{"type":"text","font":"Liberation Sans","fontSize":12.5,"color":"#29A8E0","align":"center","baseline":"middle"},
"encoding":{"x":{"field":"x","type":"quantitative","scale":{"domain":[183,1420],"nice":false,"zero":false},"axis":null},"y":{"datum":99.0,"type":"quantitative","axis":null},"text":{"field":"t"}}},
{"data":{"name":"one"},"mark":{"type":"text","font":"Liberation Sans","fontSize":13,"color":"#1E9E4A","align":"center","baseline":"middle"},
"encoding":{"x":{"datum":1284.1,"type":"quantitative","axis":null},"y":{"datum":104.6,"type":"quantitative","axis":null},"text":{"value":"#"}}},
{"data":{"name":"one"},"mark":{"type":"text","font":"Liberation Sans","fontSize":25,"fontWeight":"bold","color":"#000","align":"center","baseline":"middle"},
"encoding":{"x":{"datum":167.9,"type":"quantitative","axis":null},"y":{"datum":110.0,"type":"quantitative","axis":null},"text":{"value":"A"}}}
]
},
{
"width":739,"height":396,
"resolve":{"axis":{"x":"independent","y":"independent"}},
"layer":[
{"data":{"name":"specB"},"mark":{"type":"rule","color":"#111","strokeWidth":1},
"encoding":{
"x":{"field":"mz","type":"quantitative","scale":{"domain":[235,1752],"nice":false,"zero":false},"axis":{"orient":"bottom","values":[300,400,500,600,700,800,900,1000,1100,1200,1300,1400,1500,1600,1700],"format":"d","labelExpr":"datum.value % 200 == 100 ? datum.label : ''","tickSize":4.5,"labelPadding":4.5,"title":"m/z","titleX":375,"titleY":30,"titleBaseline":"middle","titleAlign":"center"}},
"y":{"field":"i","type":"quantitative","scale":{"domain":[0,100],"nice":false},"axis":{"orient":"left","values":[0,20,40,60,80,100],"format":"d","tickSize":3.5,"labelPadding":1.5,"title":"Relative Abundance","titleX":-26,"titleY":195,"titleBaseline":"middle","titleAngle":270}},
"y2":{"datum":0}}},
{"data":{"name":"annB"},"mark":{"type":"rule","color":"#5BC5EA","strokeWidth":1.3},
"encoding":{
"x":{"field":"mz","type":"quantitative","scale":{"domain":[235,1752],"nice":false,"zero":false},"axis":{"orient":"bottom","values":[240,250,260,270,280,290,300,310,320,330,340,350,360,370,380,390,400,410,420,430,440,450,460,470,480,490,500,510,520,530,540,550,560,570,580,590,600,610,620,630,640,650,660,670,680,690,700,710,720,730,740,750,760,770,780,790,800,810,820,830,840,850,860,870,880,890,900,910,920,930,940,950,960,970,980,990,1000,1010,1020,1030,1040,1050,1060,1070,1080,1090,1100,1110,1120,1130,1140,1150,1160,1170,1180,1190,1200,1210,1220,1230,1240,1250,1260,1270,1280,1290,1300,1310,1320,1330,1340,1350,1360,1370,1380,1390,1400,1410,1420,1430,1440,1450,1460,1470,1480,1490,1500,1510,1520,1530,1540,1550,1560,1570,1580,1590,1600,1610,1620,1630,1640,1650,1660,1670,1680,1690,1700,1710,1720,1730,1740,1750],"labels":false,"domain":false,"tickSize":2.5,"title":null}},
"y":{"field":"i","type":"quantitative","scale":{"domain":[0,100],"nice":false},"axis":{"orient":"left","values":[0,2,4,6,8,10,12,14,16,18,20,22,24,26,28,30,32,34,36,38,40,42,44,46,48,50,52,54,56,58,60,62,64,66,68,70,72,74,76,78,80,82,84,86,88,90,92,94,96,98,100],"labels":false,"domain":false,"tickSize":2,"title":null}},
"x2":{"field":"lx"},"y2":{"field":"ly"}}},
{"data":{"name":"annB"},"mark":{"type":"text","font":"Liberation Sans","fontSize":13,"color":"#1a1a1a","align":"center","baseline":"middle"},
"encoding":{"x":{"field":"tx","type":"quantitative","scale":{"domain":[235,1752],"nice":false,"zero":false},"axis":null},"y":{"field":"ty","type":"quantitative","scale":{"domain":[0,100],"nice":false},"axis":null},"text":{"field":"lab"}}},
{"data":{"name":"annB"},"mark":{"type":"text","font":"Liberation Sans","fontSize":13,"color":"#1a1a1a","align":"center","baseline":"middle","dy":-21.5},
"encoding":{"x":{"field":"tx","type":"quantitative","scale":{"domain":[235,1752],"nice":false,"zero":false},"axis":null},"y":{"field":"ty","type":"quantitative","scale":{"domain":[0,100],"nice":false},"axis":null},"text":{"field":"ion"}}},
{"data":{"name":"seqB"},"mark":{"type":"text","font":"Liberation Sans","fontSize":21,"align":"center","baseline":"middle"},
"encoding":{"x":{"field":"x","type":"quantitative","scale":{"domain":[235,1752],"nice":false,"zero":false},"axis":null},"y":{"datum":107.7,"type":"quantitative","axis":null},"text":{"field":"aa"},"color":{"field":"c","type":"nominal","scale":{"domain":["n","p"],"range":["#111111","#1E9E4A"]},"legend":null}}},
{"data":{"name":"sepB"},"mark":{"type":"rule","color":"#111","strokeWidth":1.2},
"encoding":{"x":{"field":"s","type":"quantitative","scale":{"domain":[235,1752],"nice":false,"zero":false},"axis":null},"y":{"datum":110.6,"type":"quantitative","axis":null},"y2":{"datum":104.5}}},
{"data":{"name":"sepB"},"transform":[{"filter":"isValid(datum.bx)"}],"mark":{"type":"rule","color":"#111","strokeWidth":1.2},
"encoding":{"x":{"field":"s","type":"quantitative","scale":{"domain":[235,1752],"nice":false,"zero":false},"axis":null},"x2":{"field":"bx"},"y":{"datum":110.6,"type":"quantitative","axis":null}}},
{"data":{"name":"sepB"},"transform":[{"filter":"isValid(datum.yx)"}],"mark":{"type":"rule","color":"#111","strokeWidth":1.2},
"encoding":{"x":{"field":"s","type":"quantitative","scale":{"domain":[235,1752],"nice":false,"zero":false},"axis":null},"x2":{"field":"yx"},"y":{"datum":104.5,"type":"quantitative","axis":null}}},
{"data":{"name":"bB"},"mark":{"type":"text","font":"Liberation Sans","fontSize":11.5,"color":"#E5262A","align":"center","baseline":"middle"},
"encoding":{"x":{"field":"x","type":"quantitative","scale":{"domain":[235,1752],"nice":false,"zero":false},"axis":null},"y":{"datum":112.4,"type":"quantitative","axis":null},"text":{"field":"t"}}},
{"data":{"name":"yB"},"mark":{"type":"text","font":"Liberation Sans","fontSize":11.5,"color":"#29A8E0","align":"center","baseline":"middle"},
"encoding":{"x":{"field":"x","type":"quantitative","scale":{"domain":[235,1752],"nice":false,"zero":false},"axis":null},"y":{"datum":101.9,"type":"quantitative","axis":null},"text":{"field":"t"}}},
{"data":{"name":"one"},"mark":{"type":"text","font":"Liberation Sans","fontSize":13,"color":"#1E9E4A","align":"center","baseline":"middle"},
"encoding":{"x":{"datum":1313.0,"type":"quantitative","axis":null},"y":{"datum":109.2,"type":"quantitative","axis":null},"text":{"value":"#"}}},
{"data":{"name":"one"},"mark":{"type":"text","font":"Liberation Sans","fontSize":25,"fontWeight":"bold","color":"#000","align":"center","baseline":"middle"},
"encoding":{"x":{"datum":243.2,"type":"quantitative","axis":null},"y":{"datum":117.0,"type":"quantitative","axis":null},"text":{"value":"B"}}}
]
}
]
}
